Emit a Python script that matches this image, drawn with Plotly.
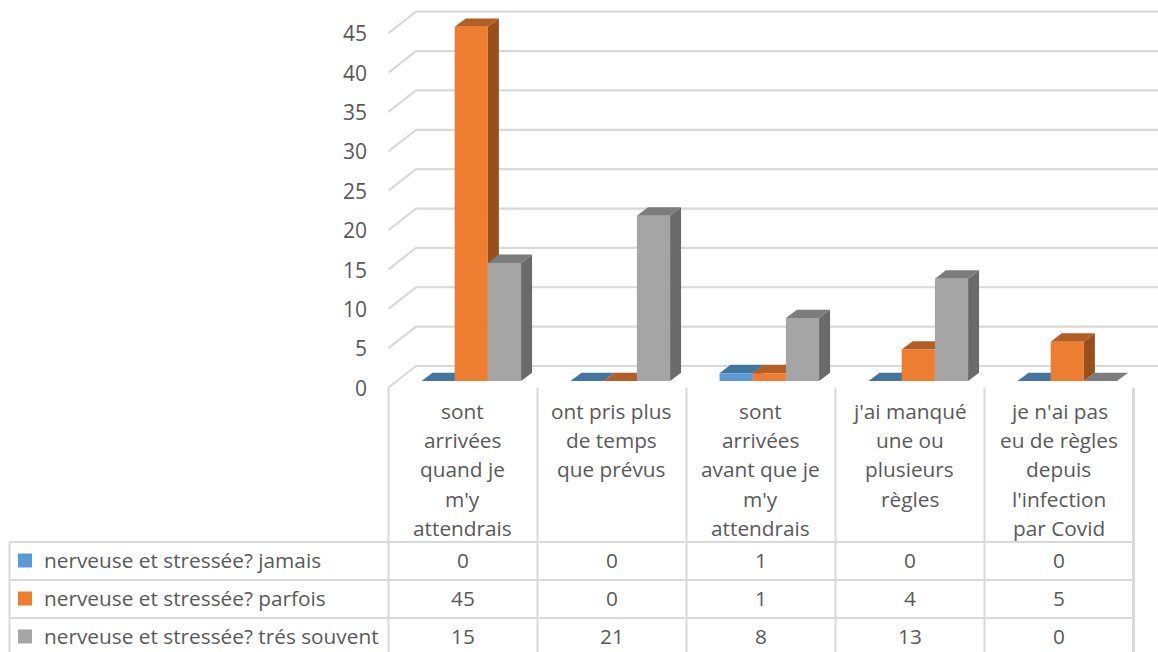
import plotly.graph_objects as go

categories = [
    ["sont", "arrivées", "quand je", "m'y", "attendrais"],
    ["ont pris plus", "de temps", "que prévus"],
    ["sont", "arrivées", "avant que je", "m'y", "attendrais"],
    ["j'ai manqué", "une ou", "plusieurs", "règles"],
    ["je n'ai pas", "eu de règles", "depuis", "l'infection", "par Covid"],
]
series_names = ["nerveuse et stressée? jamais", "nerveuse et stressée? parfois", "nerveuse et stressée? trés souvent"]
jamais = [0, 0, 1, 0, 0]
parfois = [45, 0, 1, 4, 5]
tres_souvent = [15, 21, 8, 13, 0]
y_ticks = [0, 5, 10, 15, 20, 25, 30, 35, 40, 45]

series = [jamais, parfois, tres_souvent]
front = ["#5B9BD5", "#ED7D31", "#A5A5A5"]
top = ["#44759F", "#B35E25", "#7C7C7C"]
side = ["#3E6F99", "#984F1C", "#6A6A6A"]
GRID = "#D9D9D9"
TEXT = "#595959"
FONT = "Open Sans"
W, H = 1158, 652

# pixel layout of the scene
PX_PER_CAT = 149.0
PX_PER_VAL = 354.3 / 45
X0_PX = 471.3     # centre of the first bar group
Y0_PX = 381.0     # value 0 on the bar front
GAP = 0.332
BAR_W = (1 - GAP) / 3
xrange_ = [-X0_PX / PX_PER_CAT, (W - X0_PX) / PX_PER_CAT]
yrange_ = [-(H - Y0_PX) / PX_PER_VAL, Y0_PX / PX_PER_VAL]
DX = 11.0 / PX_PER_CAT   # bar depth
DY = 8.3 / PX_PER_VAL
WALL_L = (388.5 - X0_PX) / PX_PER_CAT
WALL_B = (416.0 - X0_PX) / PX_PER_CAT
WALL_F0 = (Y0_PX - 387.5) / PX_PER_VAL
WALL_B0 = (Y0_PX - 366.0) / PX_PER_VAL
LABEL_SHIFT = 0.8 / PX_PER_VAL


def paper_x(px):
    return px / W


def paper_y(py):
    return 1 - py / H


fig = go.Figure()

# gridlines on side wall and back wall
gx, gy = [], []
for t in y_ticks:
    gx += [WALL_L, WALL_B, xrange_[1], None]
    gy += [t + WALL_F0, t + WALL_B0, t + WALL_B0, None]
fig.add_trace(go.Scatter(x=gx, y=gy, mode="lines", line=dict(color=GRID, width=2.2),
                         hoverinfo="skip", showlegend=False))

# top and side faces of each bar (from the values)
for i in range(len(categories)):
    for k, vals in enumerate(series):
        v = vals[i]
        x0 = i + (k - 1.5) * BAR_W
        x1 = x0 + BAR_W
        if v > 0:
            fig.add_trace(go.Scatter(
                x=[x1, x1 + DX, x1 + DX, x1, x1], y=[0, DY, v + DY, v, 0], mode="lines",
                fill="toself", fillcolor=side[k], line=dict(width=0, color=side[k]),
                hoverinfo="skip", showlegend=False))
        fig.add_trace(go.Scatter(
            x=[x0, x1, x1 + DX, x0 + DX, x0], y=[v, v, v + DY, v + DY, v], mode="lines",
            fill="toself", fillcolor=top[k], line=dict(width=0, color=top[k]),
            hoverinfo="skip", showlegend=False))

# front faces: real bars on an overlaid subplot
xs = list(range(len(categories)))
for k, vals in enumerate(series):
    fig.add_trace(go.Bar(x=xs, y=vals, name=series_names[k], marker=dict(color=front[k], line=dict(width=0)),
                         xaxis="x2", yaxis="y2", showlegend=False))

# value axis (carrier trace)
fig.add_trace(go.Scatter(x=[0], y=[0], mode="markers", marker=dict(opacity=0), xaxis="x", yaxis="y3",
                         hoverinfo="skip", showlegend=False))

shapes = []
def line(x0, y0, x1, y1, w=2):
    shapes.append(dict(type="line", xref="paper", yref="paper", x0=paper_x(x0), x1=paper_x(x1),
                       y0=paper_y(y0), y1=paper_y(y1), line=dict(color=GRID, width=w), layer="below"))

# data table
bounds = [388.5 + PX_PER_CAT * n for n in range(len(categories) + 1)]
row_tops = [542, 580, 618]
for n, b in enumerate(bounds):
    line(b, 387.5, b, H, 3 if n == len(bounds) - 1 else 2)
line(9.5, 542, 9.5, H)
for rt in row_tops:
    line(9.5, rt, bounds[-1], rt)

annotations = []
def text(s, px, py, anchor="center"):
    annotations.append(dict(text=s, x=paper_x(px), y=paper_y(py), xref="paper", yref="paper",
                            xanchor=anchor, yanchor="middle", showarrow=False, align=anchor,
                            font=dict(family=FONT, size=TXT, color=TEXT)))

TXT = 20.8
LINE_H = 29.3
for n, lines in enumerate(categories):
    cx = (bounds[n] + bounds[n + 1]) / 2
    for j, s in enumerate(lines):
        text(s, cx - 0.4, 410.8 + j * LINE_H)

for r, (name, vals) in enumerate(zip(series_names, series)):
    cy = row_tops[r] + 17.5
    shapes.append(dict(type="rect", xref="paper", yref="paper", x0=paper_x(18), x1=paper_x(32),
                       y0=paper_y(cy - 6), y1=paper_y(cy + 8), fillcolor=front[r], line=dict(width=0)))
    text(name, 41.5, cy, "left")
    for n, v in enumerate(vals):
        text(str(v), (bounds[n] + bounds[n + 1]) / 2, cy)

hidden = dict(visible=False, showgrid=False, zeroline=False, fixedrange=True)
# value labels sit on the front edge of the side wall: 0 is at pixel 387.5
y3_lo = yrange_[0] - WALL_F0 + LABEL_SHIFT
y3_hi = yrange_[1] - WALL_F0 + LABEL_SHIFT

fig.update_layout(
    width=W, height=H, margin=dict(l=0, r=0, t=0, b=0, pad=0),
    paper_bgcolor="white", plot_bgcolor="white", showlegend=False,
    barmode="group", bargap=GAP, bargroupgap=0,
    xaxis=dict(range=xrange_, domain=[0, 1], **hidden),
    yaxis=dict(range=yrange_, domain=[0, 1], **hidden),
    xaxis2=dict(range=xrange_, overlaying="x", **hidden),
    yaxis2=dict(range=yrange_, overlaying="y", **hidden),
    yaxis3=dict(range=[y3_lo, y3_hi], overlaying="y", anchor="free", position=367 / W, side="left",
                tickmode="array", tickvals=y_ticks, ticktext=[str(t) for t in y_ticks],
                showgrid=False, zeroline=False, showline=False, ticks="", fixedrange=True,
                tickfont=dict(family=FONT, size=21, color=TEXT)),
    shapes=shapes, annotations=annotations,
)

fig.write_html("out.html", config=dict(displayModeBar=False),
               post_script="document.body.style.margin='0';document.documentElement.style.overflow='hidden';")
